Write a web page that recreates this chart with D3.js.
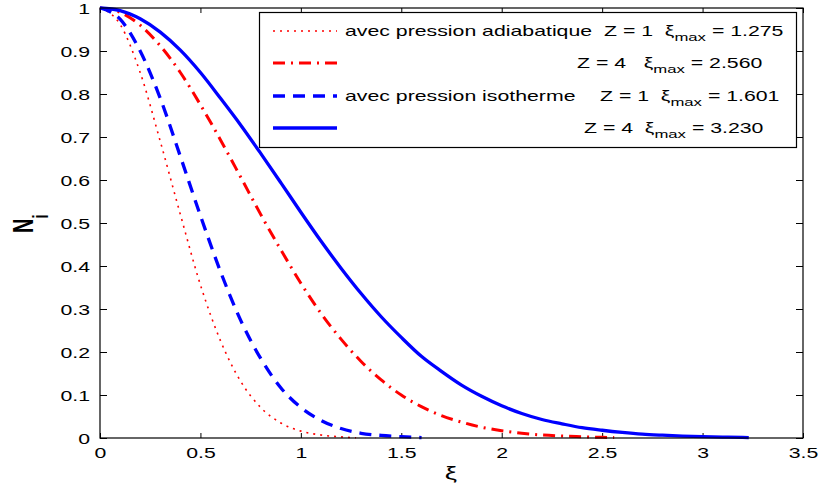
<!DOCTYPE html>
<html><head><meta charset="utf-8">
<script src="https://cdn.jsdelivr.net/npm/d3@7"></script>
<style>
html,body{margin:0;padding:0;background:#fff;}
text{font-family:"Liberation Sans",Arial,Helvetica,sans-serif;}
</style></head>
<body>
<svg id="c" width="819" height="493"></svg>
<script>
// ---- data ----
const xiAdiab1 = [0,0.1,0.2,0.3,0.4,0.5,0.6,0.7,0.8,0.9,1.0,1.1,1.2,1.275];
const nAdiab1  = [1,0.962,0.85,0.69,0.52,0.356,0.226,0.132,0.071,0.035,0.016,0.007,0.0026,0.0005];

const xiAdiab4 = [0,0.1,0.2,0.3,0.4,0.5,0.6,0.7,0.8,0.9,1.0,1.1,1.2,1.3,1.4,1.5,1.6,1.7,1.8,1.9,2.0,2.1,2.2,2.3,2.4,2.5,2.56];
const nAdiab4  = [1,0.99,0.96,0.912,0.85,0.775,0.693,0.607,0.52,0.438,0.36,0.29,0.23,0.178,0.135,0.1,0.073,0.052,0.037,0.025,0.017,0.011,0.007,0.0045,0.003,0.0015,0.001];

const xiIso1 = [0,0.1,0.2,0.3,0.4,0.5,0.6,0.7,0.8,0.9,1.0,1.1,1.2,1.3,1.4,1.5,1.601];
const nIso1  = [1,0.974,0.90,0.79,0.655,0.517,0.387,0.274,0.185,0.117,0.071,0.041,0.022,0.011,0.006,0.003,0.001];

const xiIso4 = [0,0.1,0.2,0.3,0.4,0.5,0.6,0.7,0.8,0.9,1.0,1.1,1.2,1.3,1.4,1.5,1.6,1.7,1.8,1.9,2.0,2.1,2.2,2.3,2.4,2.5,2.6,2.7,2.8,2.9,3.0,3.1,3.2,3.23];
const nIso4  = [1,0.994,0.975,0.944,0.902,0.85,0.79,0.728,0.662,0.594,0.525,0.458,0.395,0.336,0.282,0.234,0.19,0.155,0.123,0.097,0.075,0.057,0.043,0.033,0.024,0.018,0.013,0.009,0.0065,0.0045,0.003,0.002,0.0013,0.001];

const xTicks = [0,0.5,1,1.5,2,2.5,3,3.5];
const yTicks = [0,0.1,0.2,0.3,0.4,0.5,0.6,0.7,0.8,0.9,1];

const legendNames = ["avec pression adiabatique","","avec pression isotherme",""];
const legendZ = [1,4,1,4];
const legendXiMax = ["1.275","2.560","1.601","3.230"];

// ---- layout ----
const SX = 1.52; // horizontal stretch of text seen in reference
const svg = d3.select("#c");
const x = d3.scaleLinear().domain([0,3.5]).range([100,803]);
const y = d3.scaleLinear().domain([0,1]).range([438,8]);

const styles = [
  {color:"#ff0000", width:1.6, dash:"2,5"},
  {color:"#ff0000", width:3, dash:"12,6,2,6"},
  {color:"#0000ff", width:3.3, dash:"12,8"},
  {color:"#0000ff", width:3.3, dash:null}
];
const series = [
  [xiAdiab1,nAdiab1],[xiAdiab4,nAdiab4],[xiIso1,nIso1],[xiIso4,nIso4]
];

const line = d3.line().x(d=>x(d[0])).y(d=>y(d[1])).curve(d3.curveMonotoneX);

// axes (box)
const gB = svg.append("g").attr("transform","translate(0,438)")
  .call(d3.axisBottom(x).tickValues(xTicks).tickSize(-5).tickSizeOuter(0).tickPadding(10).tickFormat(d3.format("")));
const gT = svg.append("g").attr("transform","translate(0,8)")
  .call(d3.axisTop(x).tickValues(xTicks).tickSize(-5).tickSizeOuter(0).tickFormat(""));
const gL = svg.append("g").attr("transform","translate(100,0)")
  .call(d3.axisLeft(y).tickValues(yTicks).tickSize(-7).tickSizeOuter(0).tickFormat(d3.format("")));
const gR = svg.append("g").attr("transform","translate(803,0)")
  .call(d3.axisRight(y).tickValues(yTicks).tickSize(-7).tickSizeOuter(0).tickFormat(""));
[gB,gT,gL,gR].forEach(g=>{
  g.select(".domain").remove();
  g.selectAll(".tick line").attr("stroke","#000").attr("stroke-width",1);
  g.selectAll("text").attr("fill","#000").attr("font-size",14)
   .attr("font-family","Liberation Sans, Arial, sans-serif");
});
gB.selectAll(".tick text").attr("transform",`scale(${SX},1)`);
gL.selectAll(".tick text").attr("x",-10/SX).attr("dy","0.36em").attr("transform",`scale(${SX},1)`);

// curves
series.forEach((s,i)=>{
  const pts = s[0].map((v,k)=>[v,s[1][k]]);
  svg.append("path").attr("d",line(pts)).attr("fill","none")
    .attr("stroke",styles[i].color).attr("stroke-width",styles[i].width)
    .attr("stroke-dasharray",styles[i].dash).attr("stroke-linejoin","round");
});

// frame
svg.append("rect").attr("x",100).attr("y",8).attr("width",703).attr("height",430)
  .attr("fill","none").attr("stroke","#000").attr("stroke-width",1.2);

// legend
const lg = svg.append("g");
lg.append("rect").attr("x",259.5).attr("y",12.5).attr("width",537).attr("height",135)
  .attr("fill","#fff").attr("stroke","#000").attr("stroke-width",1.2);
const rowY = [31,63,96,128];
const zX = [604,577,600,584];
function stext(g,xx,yy){
  return g.append("text").attr("transform",`translate(${xx},${yy}) scale(${SX},1)`)
    .attr("font-size",14).attr("fill","#000").style("white-space","pre");
}
legendNames.forEach((nm,i)=>{
  lg.append("line").attr("x1",273).attr("x2",337).attr("y1",rowY[i]).attr("y2",rowY[i])
    .attr("stroke",styles[i].color).attr("stroke-width",styles[i].width)
    .attr("stroke-dasharray",styles[i].dash);
  if(nm) stext(lg,345,rowY[i]+5).text(nm);
  const t = stext(lg,zX[i],rowY[i]+5);
  const gap = (i===1)? "   " : "  ";
  t.append("tspan").text(`Z = ${legendZ[i]}${gap}\u03BE`);
  t.append("tspan").attr("font-size",11).attr("dy",5).text("max");
  t.append("tspan").attr("dy",-5).text(` = ${legendXiMax[i]}`);
});

// axis labels
svg.append("text").attr("transform",`translate(451,479) scale(${SX},1)`)
  .attr("text-anchor","middle").attr("font-size",18).attr("fill","#000").text("\u03BE");
const yl = svg.append("text").attr("transform",`translate(33,233) scale(${SX},1) rotate(-90)`)
  .attr("font-size",20).attr("font-weight","bold").attr("fill","#000");
yl.append("tspan").text("N");
yl.append("tspan").attr("font-size",14).attr("dy",10).text("i");
</script>
</body></html>
